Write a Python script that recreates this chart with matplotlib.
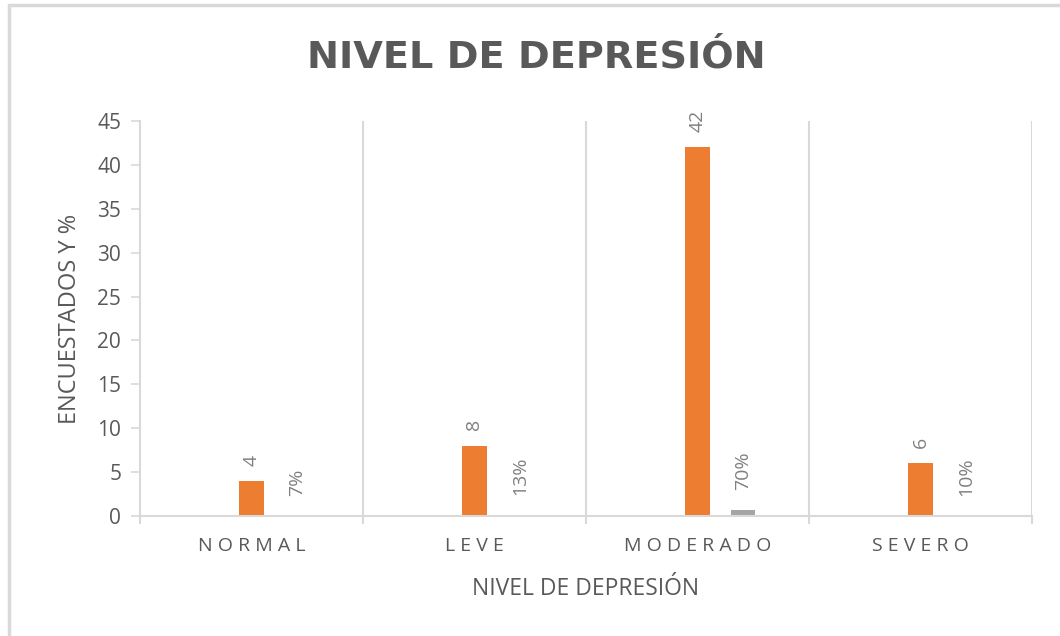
import numpy as np
import matplotlib.pyplot as plt
from matplotlib.patches import Rectangle

# datos
categorias = ['NORMAL', 'LEVE', 'MODERADO', 'SEVERO']
serie_vacia = [0, 0, 0, 0]
encuestados = [4, 8, 42, 6]
porcentaje = [0.07, 0.13, 0.70, 0.10]
etiquetas_pct = ['7%', '13%', '70%', '10%']
y_ticks = [0, 5, 10, 15, 20, 25, 30, 35, 40, 45]

gris_linea = '#D9D9D9'
gris_texto = '#595959'
gris_etiqueta = '#808080'
naranja = '#ED7D31'
gris_barra = '#A5A5A5'

plt.rcParams['font.family'] = ['Open Sans', 'DejaVu Sans']

fig = plt.figure(figsize=(10.6, 6.36), dpi=100)
ax = fig.add_axes([140 / 1060, 1 - 516 / 636, (1032 - 140) / 1060, (516 - 121) / 636])

# marco del grafico
fig.patches.append(Rectangle((9 / 1060, -0.05), 1.1, 1 - 5 / 636 + 0.05, transform=fig.transFigure,
                             fill=False, edgecolor=gris_linea, linewidth=2.5))

x = np.arange(len(categorias))
ancho = 0.108
sep = 0.204
ax.bar(x - sep, serie_vacia, ancho, color='#4472C4')
b1 = ax.bar(x, encuestados, ancho, color=naranja)
b2 = ax.bar(x + sep, porcentaje, ancho, color=gris_barra)

for rect, v in zip(b1, encuestados):
    ax.annotate(str(v), (rect.get_x() + rect.get_width() / 2, rect.get_height()),
                xytext=(0, 11), textcoords='offset points', ha='center', va='bottom',
                rotation=90, fontsize=14, color=gris_etiqueta)
for rect, t in zip(b2, etiquetas_pct):
    ax.annotate(t, (rect.get_x() + rect.get_width() / 2, rect.get_height()),
                xytext=(0, 14), textcoords='offset points', ha='center', va='bottom',
                rotation=90, fontsize=14, color=gris_etiqueta)

ax.set_xlim(-0.5, len(categorias) - 0.5)
ax.set_ylim(0, 45)
ax.set_yticks(y_ticks)
ax.tick_params(axis='y', length=6.5, width=1.2, color=gris_linea, labelsize=15,
               labelcolor=gris_texto, pad=7)

# lineas verticales entre categorias
limites = np.arange(len(categorias) + 1) - 0.5
for b in limites[1:]:
    ax.axvline(b, color=gris_linea, linewidth=1.5, zorder=0)
ax.set_xticks(limites, minor=True)
ax.set_xticks(x)
ax.set_xticklabels([' '.join(c) for c in categorias])
ax.tick_params(axis='x', which='major', length=0, pad=15, labelsize=14, labelcolor=gris_texto)
ax.tick_params(axis='x', which='minor', length=6, width=1.5, color=gris_linea)

for s in ['top', 'right']:
    ax.spines[s].set_visible(False)
for s in ['left', 'bottom']:
    ax.spines[s].set_color(gris_linea)
    ax.spines[s].set_linewidth(1.5)

ax.set_xlabel('NIVEL DE DEPRESIÓN', fontsize=16.5, color=gris_texto, labelpad=16)
ax.set_ylabel('ENCUESTADOS Y %', fontsize=17, color=gris_texto, labelpad=11)

fig.text(536 / 1060, 1 - 57 / 636, 'NIVEL DE DEPRESIÓN', ha='center', va='center',
         fontsize=27.5, fontweight='bold', color=gris_texto, family=['DejaVu Sans'])

fig.savefig('out.png', dpi=100)
